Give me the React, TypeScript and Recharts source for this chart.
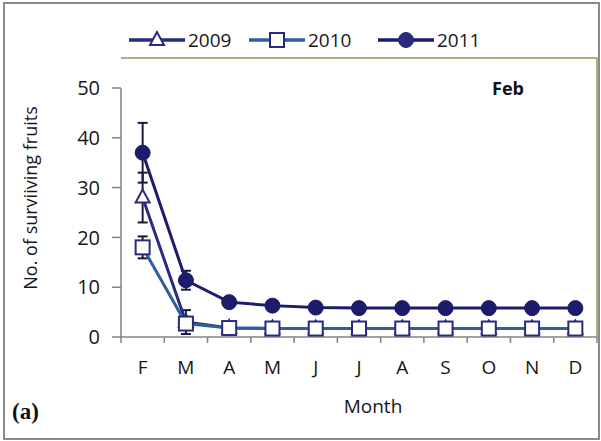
import React from "react";
import { LineChart, Line, XAxis, YAxis, ErrorBar, Legend } from "recharts";

const MONTHS = ["F", "M", "A", "M", "J", "J", "A", "S", "O", "N", "D"];

const Y2009 = [28, 3, 1.8, 1.7, 1.7, 1.7, 1.7, 1.7, 1.7, 1.7, 1.7];
const E2009 = [5, 2.4, 0.3, 0.2, 0.2, 0.2, 0.2, 0.2, 0.2, 0.2, 0.2];

const Y2010 = [18, 2.7, 1.8, 1.7, 1.7, 1.7, 1.7, 1.7, 1.7, 1.7, 1.7];
const E2010 = [2.2, 0.5, 0.3, 0.2, 0.2, 0.2, 0.2, 0.2, 0.2, 0.2, 0.2];

const Y2011 = [37, 11.4, 7, 6.3, 5.9, 5.8, 5.8, 5.8, 5.8, 5.8, 5.8];
const E2011 = [6, 1.9, 0.8, 0.4, 0.4, 0.3, 0.3, 0.3, 0.3, 0.3, 0.3];

const Y_TICKS = [0, 10, 20, 30, 40, 50];

const data = MONTHS.map((m, i) => ({
  idx: i,
  y2009: Y2009[i],
  e2009: E2009[i],
  y2010: Y2010[i],
  e2010: E2010[i],
  y2011: Y2011[i],
  e2011: E2011[i],
}));

const W = 601;
const H = 441;
const PLOT_LEFT = 121;
const PLOT_RIGHT = 597;
const PLOT_TOP = 58;
const PLOT_BOTTOM = 337;
const STEP = (PLOT_RIGHT - PLOT_LEFT) / MONTHS.length;

const NAVY = "#1d1b6b";
const NAVY2 = "#2a2a7e";
const STEEL = "#2f5e9c";
const AXIS = "#8c807c";
const TEXT = "#161616";
const FONT = "'Open Sans', sans-serif";

const Triangle = ({ cx, cy, stroke }: any) => (
  <polygon
    points={`${cx},${cy - 8} ${cx - 7},${cy + 5} ${cx + 7},${cy + 5}`}
    fill="#fff"
    stroke={stroke}
    strokeWidth={2}
  />
);

const Square = ({ cx, cy, stroke }: any) => (
  <rect x={cx - 7} y={cy - 7} width={14} height={14} fill="#fff" stroke={stroke} strokeWidth={2} />
);

const Circle = ({ cx, cy, stroke }: any) => <circle cx={cx} cy={cy} r={7.5} fill={stroke} stroke={stroke} />;

const MonthTick = ({ x, y, payload, index }: any) => (
  <g>
    <line x1={x - STEP / 2} x2={x - STEP / 2} y1={y} y2={y + 6} stroke={AXIS} strokeWidth={1.5} />
    {index === MONTHS.length - 1 && (
      <line x1={x + STEP / 2} x2={x + STEP / 2} y1={y} y2={y + 6} stroke={AXIS} strokeWidth={1.5} />
    )}
    <text x={x} y={y + 37} textAnchor="middle" fontFamily={FONT} fontSize={19} fill={TEXT}>
      {MONTHS[payload.value]}
    </text>
  </g>
);

const LEGEND_ITEMS = [
  { label: "2009", line: NAVY2, marker: Triangle, x: 129 },
  { label: "2010", line: STEEL, marker: Square, x: 249 },
  { label: "2011", line: NAVY, marker: Circle, x: 378 },
];

const LegendContent = () => (
  <svg width={W} height={30} style={{ display: "block" }}>
    {LEGEND_ITEMS.map((it) => {
      const M = it.marker;
      return (
        <g key={it.label}>
          <line x1={it.x} x2={it.x + 56} y1={15} y2={15} stroke={it.line} strokeWidth={3.5} />
          <M cx={it.x + 28} cy={15} stroke={NAVY2} />
          <text x={it.x + 59} y={22} fontFamily={FONT} fontSize={19} fill={TEXT}>
            {it.label}
          </text>
        </g>
      );
    })}
  </svg>
);

export default function App() {
  return (
    <div style={{ position: "absolute", left: 0, top: 0, width: W, height: H, background: "#fff" }}>
      <LineChart
        width={W}
        height={H}
        data={data}
        margin={{ top: PLOT_TOP, right: W - PLOT_RIGHT, left: 0, bottom: 34 }}
      >
        <XAxis
          dataKey="idx"
          type="category"
          padding={{ left: STEP / 2, right: STEP / 2 }}
          axisLine={{ stroke: AXIS, strokeWidth: 1.5 }}
          tickLine={false}
          tickSize={0}
          tickMargin={0}
          tick={<MonthTick />}
          height={H - PLOT_BOTTOM - 34}
          interval={0}
        />
        <YAxis
          domain={[0, 50]}
          ticks={Y_TICKS}
          width={PLOT_LEFT}
          axisLine={{ stroke: AXIS, strokeWidth: 1.5 }}
          tickLine={{ stroke: AXIS, strokeWidth: 1.5 }}
          tickSize={9}
          tickMargin={12}
          tick={{ fontFamily: FONT, fontSize: 20, fill: TEXT }}
        />
        <Legend
          verticalAlign="top"
          content={<LegendContent />}
          wrapperStyle={{ position: "absolute", top: 25, left: 0, width: W }}
        />
        <Line
          dataKey="y2009"
          stroke={NAVY2}
          strokeWidth={3}
          dot={<Triangle stroke={NAVY2} />}
          isAnimationActive={false}
        >
          <ErrorBar dataKey="e2009" direction="y" width={5} stroke="#1a1840" strokeWidth={2} />
        </Line>
        <Line
          dataKey="y2010"
          stroke={STEEL}
          strokeWidth={3}
          dot={<Square stroke={NAVY2} />}
          isAnimationActive={false}
        >
          <ErrorBar dataKey="e2010" direction="y" width={5} stroke="#1a1840" strokeWidth={2} />
        </Line>
        <Line
          dataKey="y2011"
          stroke={NAVY}
          strokeWidth={3}
          dot={<Circle stroke={NAVY} />}
          isAnimationActive={false}
        >
          <ErrorBar dataKey="e2011" direction="y" width={5} stroke="#1a1840" strokeWidth={2} />
        </Line>
      </LineChart>

      {/* frame, panel letter, titles */}
      <svg width={W} height={H} style={{ position: "absolute", left: 0, top: 0, pointerEvents: "none" }}>
        <rect x={4} y={3} width={W - 6} height={H - 5} fill="none" stroke="#8a8a8a" strokeWidth={2} />
        <polyline
          points={`${PLOT_LEFT},${PLOT_TOP} ${PLOT_RIGHT},${PLOT_TOP} ${PLOT_RIGHT},${PLOT_BOTTOM}`}
          fill="none"
          stroke="#8a9a5e"
          strokeWidth={1.5}
        />
        <text x={492} y={95} fontFamily={FONT} fontWeight="bold" fontSize={18} fill="#111">
          Feb
        </text>
        <text x={373} y={413} textAnchor="middle" fontFamily={FONT} fontSize={19} fill={TEXT}>
          Month
        </text>
        <text
          x={0}
          y={0}
          transform="translate(37,198) rotate(-90)"
          textAnchor="middle"
          fontFamily={FONT}
          fontSize={18}
          fill={TEXT}
        >
          No. of surviiving fruits
        </text>
        <text x={12} y={419} fontFamily="'Liberation Serif', serif" fontWeight="bold" fontSize={23} fill="#111">
          (a)
        </text>
      </svg>
    </div>
  );
}
